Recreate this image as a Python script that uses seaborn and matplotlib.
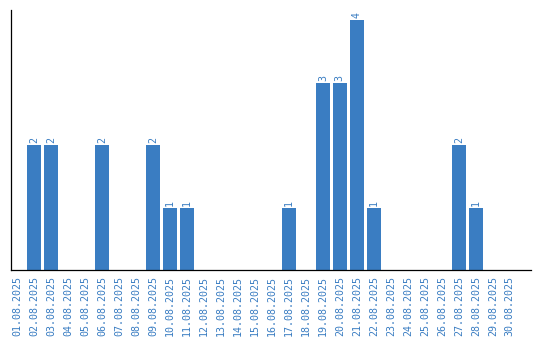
import matplotlib
matplotlib.use("Agg")
import matplotlib.pyplot as plt
import seaborn as sns
import pandas as pd

dates = [f"{d:02d}.08.2025" for d in range(1, 31)]
counts = [0, 2, 2, 0, 0, 2, 0, 0, 2, 1, 1, 0, 0, 0, 0, 0, 1, 0, 3, 3, 4, 1, 0, 0, 0, 0, 2, 1, 0, 0]

df = pd.DataFrame({"date": dates, "count": counts})

sns.set_style("white")
color = "#3a7dc2"

fig = plt.figure(figsize=(5.4, 3.4), dpi=100)
ax = fig.add_axes([11/540, 70/340, 520/540, 260/340])
sns.barplot(data=df, x="date", y="count", color=color, saturation=1, width=0.84,
            linewidth=0, ax=ax)

ax.set_xlim(-0.35, 30.25)
ax.set_ylim(0, 4.16)
ax.set_xlabel("")
ax.set_ylabel("")
ax.set_yticks([])
ax.tick_params(axis="x", length=0, pad=4, labelsize=7.2, labelcolor=color, rotation=90)
for lab in ax.get_xticklabels():
    lab.set_fontfamily("DejaVu Sans Mono")
for s in ["top", "right"]:
    ax.spines[s].set_visible(False)
for s in ["left", "bottom"]:
    ax.spines[s].set_color("black")
    ax.spines[s].set_linewidth(0.9)

for i, v in enumerate(counts):
    if v > 0:
        ax.text(i, v + 0.03, str(v), rotation=90, ha="center", va="bottom",
                color=color, fontsize=7.2, family="DejaVu Sans Mono")

fig.savefig("out.png", dpi=100)
